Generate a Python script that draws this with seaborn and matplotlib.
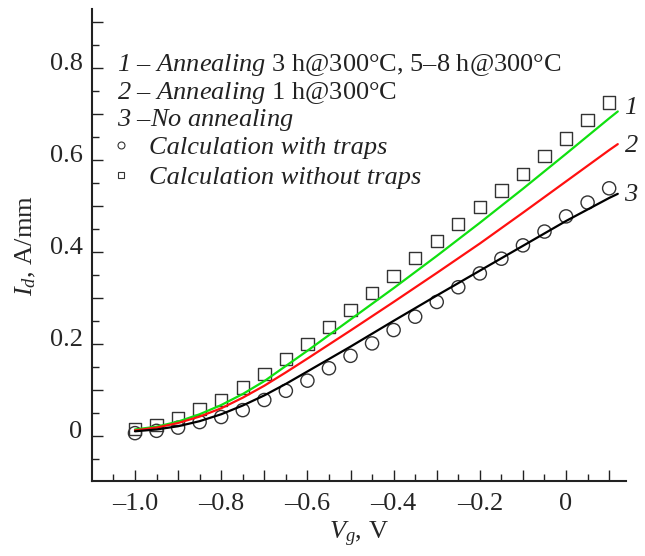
import matplotlib
matplotlib.use("Agg")
import matplotlib.pyplot as plt
import matplotlib.transforms as mtransforms
from matplotlib.ticker import MultipleLocator, FuncFormatter
from matplotlib.lines import Line2D
import seaborn as sns

# ---------------- data ----------------
vg_line = [-1.0, -0.95, -0.9, -0.85, -0.8, -0.75, -0.7, -0.65, -0.6, -0.5, -0.4, -0.3, -0.2, -0.1, 0.0, 0.1, 0.12]
id_curve1 = [0.014, 0.020, 0.031, 0.047, 0.067, 0.091, 0.119, 0.152, 0.185, 0.253, 0.321, 0.391, 0.463, 0.537, 0.613, 0.690, 0.705]
id_curve2 = [0.012, 0.018, 0.028, 0.042, 0.060, 0.083, 0.109, 0.138, 0.168, 0.229, 0.291, 0.354, 0.418, 0.485, 0.553, 0.621, 0.634]
id_curve3 = [0.010, 0.014, 0.021, 0.032, 0.047, 0.066, 0.088, 0.113, 0.140, 0.194, 0.250, 0.305, 0.359, 0.413, 0.467, 0.517, 0.526]

vg_points = [-1.0, -0.95, -0.9, -0.85, -0.8, -0.75, -0.7, -0.65, -0.6, -0.55, -0.5, -0.45,
             -0.4, -0.35, -0.3, -0.25, -0.2, -0.15, -0.1, -0.05, 0.0, 0.05, 0.1]
id_without_traps = [0.015, 0.024, 0.038, 0.058, 0.078, 0.105, 0.135, 0.167, 0.200, 0.236, 0.274, 0.311,
                    0.348, 0.386, 0.424, 0.460, 0.497, 0.533, 0.569, 0.608, 0.646, 0.686, 0.724]
id_with_traps = [0.006, 0.011, 0.018, 0.030, 0.041, 0.056, 0.078, 0.098, 0.120, 0.147, 0.174, 0.201,
                 0.230, 0.259, 0.291, 0.323, 0.353, 0.385, 0.414, 0.444, 0.477, 0.507, 0.538]

curve_labels = ["1", "2", "3"]
curve_colors = ["#10e010", "#ff1010", "#000000"]
legend_rows = [
    r"$\mathsf{1}$ – $\mathsf{Annealing}$ 3 h@300°C, 5–8 h@300°C",
    r"$\mathsf{2}$ – $\mathsf{Annealing}$ 1 h@300°C",
    r"$\mathsf{3}$ –$\mathsf{No\ annealing}$",
]
marker_labels = ["Calculation with traps", "Calculation without traps"]
x_label = r"$V_g$, V"
y_label = r"$I_d$, A/mm"

# ---------------- style ----------------
sns.set_theme(style="ticks")
plt.rcParams.update({
    "font.family": ["Liberation Serif", "DejaVu Serif"],
    "mathtext.fontset": "custom",
    "mathtext.rm": "Liberation Serif",
    "mathtext.it": "Liberation Serif:italic",
    "mathtext.sf": "Liberation Serif:italic",
    "mathtext.bf": "Liberation Serif:bold",
    "font.size": 19,
    "axes.linewidth": 1.5,
})

fig = plt.figure(figsize=(6.45, 5.56), dpi=100)
ax = fig.add_axes([0.1431, 0.1349, 0.8274, 0.8484])

for ys, c in zip([id_curve1, id_curve2, id_curve3], curve_colors):
    sns.lineplot(x=vg_line, y=ys, color=c, linewidth=1.6, ax=ax, legend=False)

sns.scatterplot(x=vg_points, y=id_with_traps, marker="o", s=90, ax=ax, legend=False)
coll_o = ax.collections[-1]
coll_o.set_facecolor("none"); coll_o.set_edgecolor("#333333"); coll_o.set_linewidth(1.0)
sns.scatterplot(x=vg_points, y=id_without_traps, marker="s", s=80, ax=ax, legend=False)
coll_s = ax.collections[-1]
coll_s.set_facecolor("none"); coll_s.set_edgecolor("#333333"); coll_s.set_linewidth(1.0)

# curve end labels
dys = [2.5, -1.0, -0.8]
for lab, ys, dy in zip(curve_labels, [id_curve1, id_curve2, id_curve3], dys):
    ax.annotate(lab, xy=(vg_line[-1], ys[-1]), xytext=(9.6, dy), textcoords="offset points",
                ha="center", va="center", style="italic", fontsize=19, color="#222222")

ax.set_xlim(-1.099, 0.139)
ax.set_ylim(-0.098, 0.927)

def fmt(v, pos):
    k = round(v / 0.2)
    if abs(v - 0.2 * k) > 1e-6:
        return ""
    if abs(v) < 1e-9:
        return "0"
    return ("–" if v < 0 else "") + f"{abs(v):.1f}"

for axis in (ax.xaxis, ax.yaxis):
    axis.set_major_locator(MultipleLocator(0.1))
    axis.set_minor_locator(MultipleLocator(0.05))
    axis.set_major_formatter(FuncFormatter(fmt))

ax.tick_params(which="major", direction="in", length=8, width=1.0, labelsize=19, color="#222222")
ax.tick_params(which="minor", direction="in", length=5, width=1.0, color="#222222")
ax.tick_params(axis="x", pad=9)
ax.tick_params(axis="y", pad=7)
sns.despine(ax=ax)
for s in ("left", "bottom"):
    ax.spines[s].set_color("#222222")

ax.set_xlabel(x_label, fontsize=19, labelpad=3.5)
ax.set_ylabel(y_label, fontsize=19, labelpad=8)

offset = mtransforms.ScaledTranslation(0, 4.5 / 72, fig.dpi_scale_trans)
for t in ax.yaxis.get_major_ticks():
    t.label1.set_transform(t.label1.get_transform() + offset)

# legend-like text block
row_y = [0.8684, 0.8105, 0.7526]
for txt, yy in zip(legend_rows, row_y):
    ax.text(0.0457, yy, txt, transform=ax.transAxes, ha="left", va="baseline",
            fontsize=19, color="#222222")

handles = [
    Line2D([], [], ls="", marker="o", markersize=5, mfc="none", mec="#333333", mew=0.8),
    Line2D([], [], ls="", marker="s", markersize=5, mfc="none", mec="#333333", mew=0.8),
]
leg = ax.legend(handles, marker_labels, loc="center left", bbox_to_anchor=(0.0285, 0.6755),
                frameon=False, handlelength=1.0, handletextpad=0.57, borderpad=0,
                borderaxespad=0, labelspacing=0.26,
                prop={"family": "Liberation Serif", "style": "italic", "size": 19})
for t in leg.get_texts():
    t.set_color("#222222")

fig.savefig("out.png", dpi=100)
